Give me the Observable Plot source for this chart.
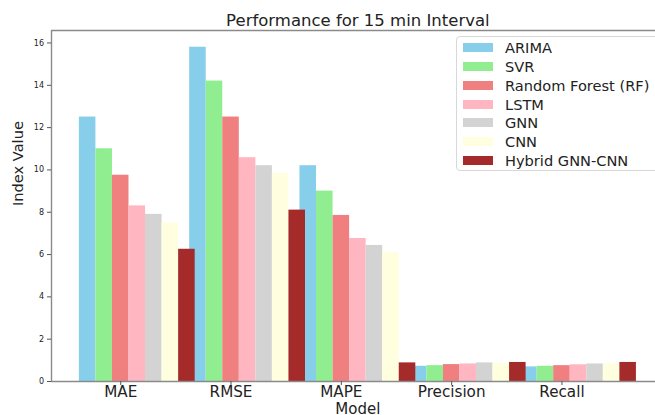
<!DOCTYPE html>
<html>
<head>
<meta charset="utf-8">
<script src="https://cdn.jsdelivr.net/npm/d3@7"></script>
<script src="https://cdn.jsdelivr.net/npm/@observablehq/plot@0.6"></script>
<style>
  html, body { margin: 0; padding: 0; background: #fff; overflow: hidden; }
  #fig { position: relative; width: 655px; height: 415px; overflow: hidden; font-family: "DejaVu Sans", sans-serif; }
  #legend { position: absolute; left: 456px; top: 36px; width: 215px; height: 135px; border: 1px solid #d8d8d8; border-radius: 4px; background: rgba(255,255,255,0.85); box-sizing: border-box; }
  .row { position: absolute; left: 6px; height: 18px; display: flex; align-items: center; }
  .sw { width: 30px; height: 9px; margin-right: 12px; }
  .lab { font-size: 14.6px; color: #222; white-space: nowrap; }
</style>
</head>
<body>
<div id="fig"></div>
<script>
const metrics = ["MAE", "RMSE", "MAPE", "Precision", "Recall"];
const models = ["ARIMA", "SVR", "Random Forest (RF)", "LSTM", "GNN", "CNN", "Hybrid GNN-CNN"];
const colors = ["#87CEEB", "#90EE90", "#F08080", "#FFB6C1", "#D3D3D3", "#FFFFE0", "#A52A2A"];
const arima  = [12.5, 15.8, 10.2, 0.72, 0.69];
const svr    = [11.0, 14.2, 9.0, 0.75, 0.72];
const rf     = [9.75, 12.5, 7.85, 0.80, 0.75];
const lstm   = [8.3, 10.58, 6.76, 0.83, 0.79];
const gnn    = [7.9, 10.2, 6.43, 0.88, 0.83];
const cnn    = [7.5, 9.83, 6.1, 0.86, 0.83];
const hybrid = [6.25, 8.1, 0.88, 0.90, 0.90];
const yTicks = [0, 2, 4, 6, 8, 10, 12, 14, 16];
const title = "Performance for 15 min Interval";
const xTitle = "Model";
const yTitle = "Index Value";

const series = [arima, svr, rf, lstm, gnn, cnn, hybrid];
const barW = 0.15;
const tickOffset = 2 * barW;
const data = [];
models.forEach((m, si) => {
  series[si].forEach((v, gi) => data.push({model: m, metric: metrics[gi], si, gi, value: v}));
});

const xMin = -0.3275, xMaxFull = 5.2275, xMax = 5.148;
const yMax = 16.59;
const xMid = (xMin + xMaxFull) / 2;
const spine = "#8a8a8a";

const chart = Plot.plot({
  width: 655,
  height: 415,
  marginLeft: 51,
  marginRight: 0,
  marginTop: 30,
  marginBottom: 34,
  style: {fontFamily: "DejaVu Sans, sans-serif", color: "#222", background: "#fff", overflow: "visible"},
  x: {type: "linear", domain: [xMin, xMax]},
  y: {domain: [0, yMax]},
  color: {domain: models, range: colors},
  marks: [
    Plot.rectY(data, {
      x1: d => d.gi + d.si * barW - barW / 2,
      x2: d => d.gi + d.si * barW + barW / 2,
      y: "value",
      fill: "model",
      inset: 0
    }),
    Plot.ruleY([0], {stroke: spine, strokeWidth: 1.4}),
    Plot.ruleY([yMax], {stroke: spine, strokeWidth: 1.4}),
    Plot.ruleX([xMin], {stroke: spine, strokeWidth: 1.4}),
    Plot.axisY({ticks: yTicks, tickSize: 4, tickPadding: 3.5, fontSize: 8, label: null, stroke: "#555"}),
    Plot.axisX({
      ticks: metrics.map((m, i) => i + tickOffset),
      tickFormat: v => metrics[Math.round(v - tickOffset)],
      tickSize: 4, tickPadding: 0.5, fontSize: 15.2, label: null, stroke: "#555"
    }),
    Plot.text([yTitle], {frameAnchor: "left", dx: -33, rotate: -90, fontSize: 14.6, fill: "#222"}),
    Plot.text([xTitle], {x: () => xMid, frameAnchor: "bottom", dy: 32, lineAnchor: "bottom", fontSize: 15, fill: "#222"}),
    Plot.text([title], {x: () => xMid, frameAnchor: "top", dy: -4.7, lineAnchor: "bottom", fontSize: 16.5, fill: "#222"})
  ]
});

const fig = document.getElementById("fig");
fig.appendChild(chart);

const legend = document.createElement("div");
legend.id = "legend";
models.forEach((m, i) => {
  const row = document.createElement("div");
  row.className = "row";
  row.style.top = (1.7 + i * 18.77) + "px";
  const sw = document.createElement("div");
  sw.className = "sw";
  sw.style.background = colors[i];
  const lab = document.createElement("span");
  lab.className = "lab";
  lab.textContent = m;
  row.appendChild(sw);
  row.appendChild(lab);
  legend.appendChild(row);
});
fig.appendChild(legend);
</script>
</body>
</html>
